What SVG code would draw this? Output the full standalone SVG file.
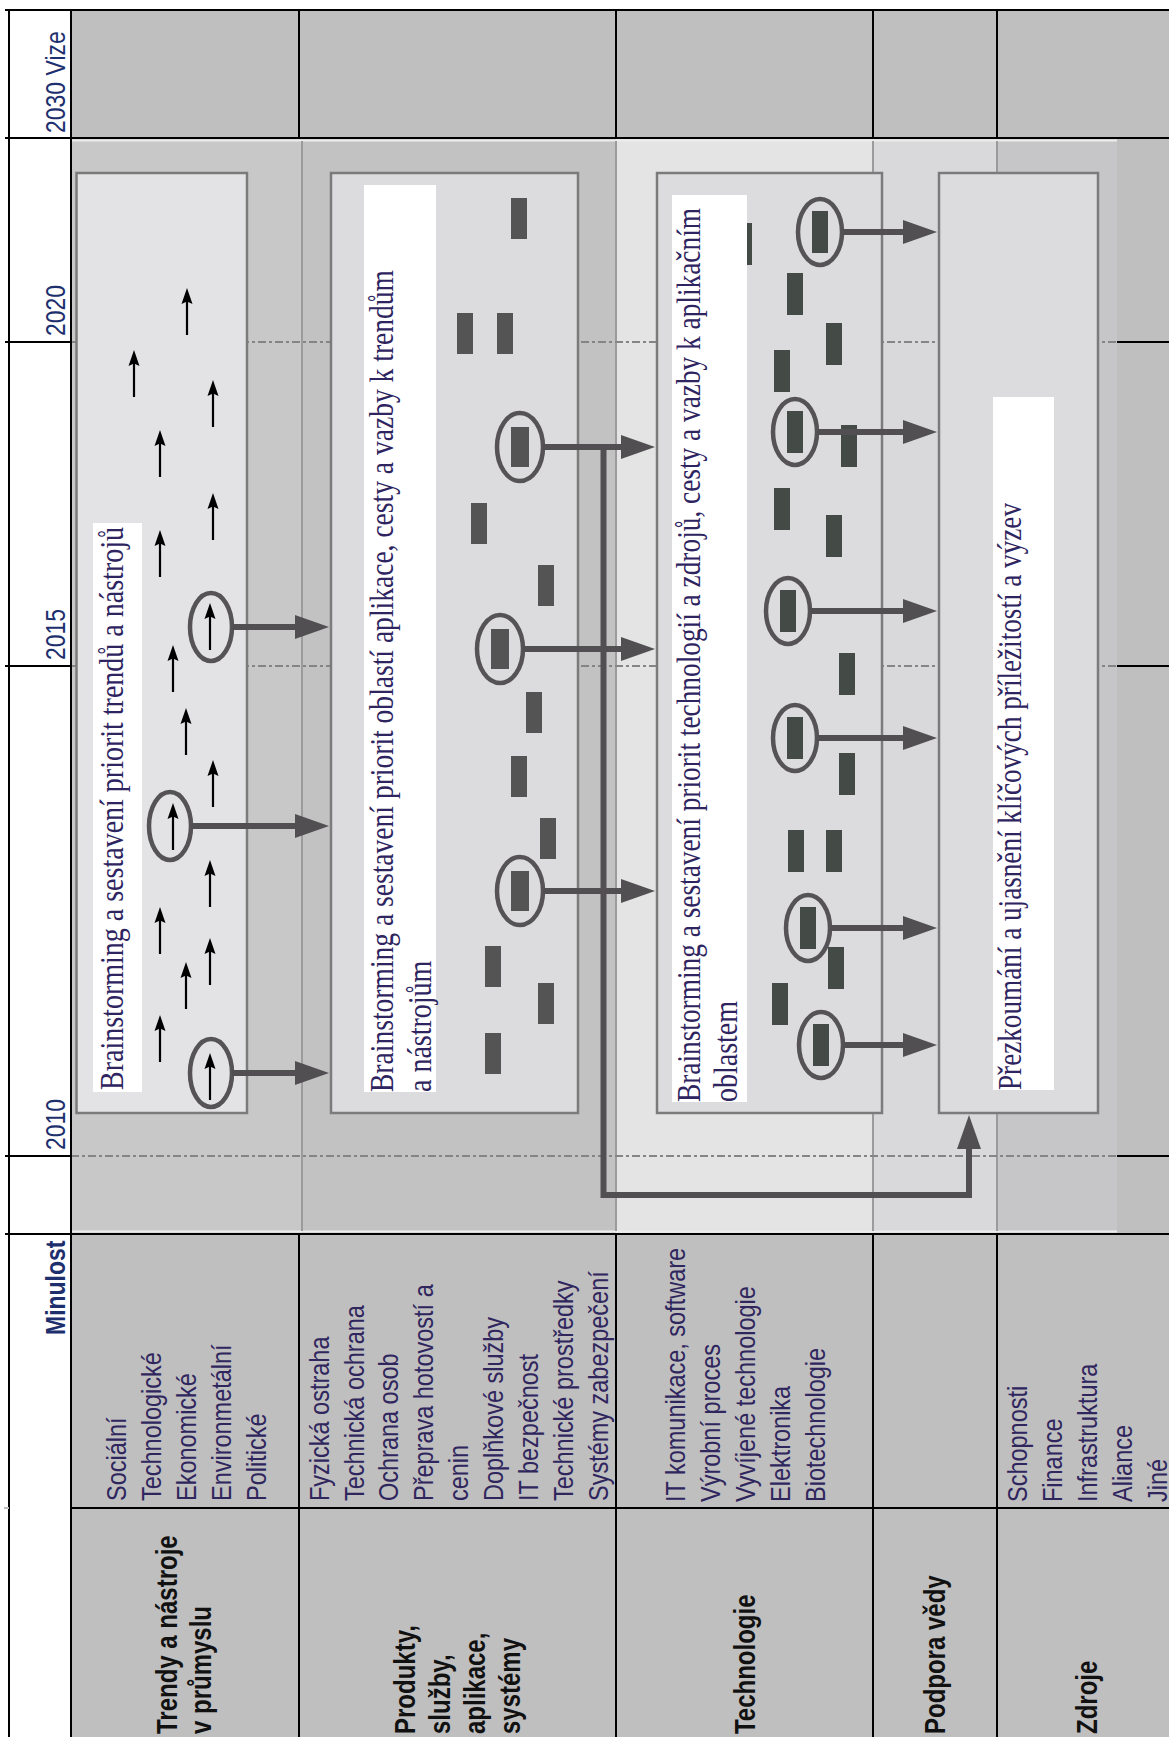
<svg xmlns="http://www.w3.org/2000/svg" xmlns:xlink="http://www.w3.org/1999/xlink" width="1169" height="1737" viewBox="0 0 1169 1737">
  <style>
    .cell { fill: #bfbfbf; }
    .grid { stroke: #000; stroke-width: 2; fill: none; }
    .bandline { stroke: #9b9b9b; stroke-width: 2; }
    .dash { stroke: #858585; stroke-width: 2; stroke-dasharray: 8 3 3 3; }
    .box { stroke: #7b7b7b; stroke-width: 2.5; }
    .lblbg { fill: #ffffff; }
    .lbl { font-family: "Liberation Serif", "Times New Roman", serif; font-size: 28px; fill: #2e2460; }
    .yr { font-family: "Liberation Sans", Arial, sans-serif; font-size: 23px; fill: #1d2f6d; }
    .desc { font-family: "Liberation Sans", Arial, sans-serif; font-size: 23.5px; fill: #30265e; }
    .title { font-family: "Liberation Sans", Arial, sans-serif; font-size: 24px; font-weight: bold; fill: #111; }
    .bar { fill: #545454; }
    .bar2 { fill: #444a46; }
    .ring { fill: none; stroke: #555355; stroke-width: 4.5; }
    .conn { fill: none; stroke: #524f52; stroke-width: 6; }
  </style>
  <defs>
    <!-- small upward trend arrow, 47 px tall, tip at (0,0) -->
    <g id="trend">
      <path d="M0,47 V13" stroke="#000" stroke-width="2.2"/>
      <path d="M0,0 L-5.5,16 L0,13.5 L5.5,16 Z" fill="#000"/>
    </g>
    <rect id="b2" class="bar" width="16" height="41"/>
    <rect id="b3" class="bar2" width="16" height="42"/>
    <marker id="head" markerUnits="userSpaceOnUse" viewBox="0 0 34 24" markerWidth="34" markerHeight="24" refX="0" refY="12" orient="auto">
      <path d="M0,0 L34,12 L0,24 Z" fill="#524f52"/>
    </marker>
  </defs>

  <rect width="1169" height="1737" fill="#fff"/>

  <!-- table cells -->
  <g id="table">
    <rect class="cell" x="71" y="10" width="1098" height="128"/>
    <rect class="cell" x="71" y="1234" width="1098" height="503"/>
    <!-- timeline bands -->
    <rect x="71" y="138" width="231" height="1096" fill="#c8c8c8"/>
    <rect x="302" y="138" width="314" height="1096" fill="#c2c2c2"/>
    <rect x="616" y="138" width="257" height="1096" fill="#e4e4e4"/>
    <rect x="873" y="138" width="124" height="1096" fill="#d9d9db"/>
    <rect x="997" y="138" width="120" height="1096" fill="#c6c6c8"/>
    <rect x="1117" y="138" width="52" height="1096" fill="#bfbfbf"/>
    <line x1="71" y1="140.5" x2="1117" y2="140.5" stroke="#ececec" stroke-width="2"/>
    <line x1="71" y1="1231.5" x2="1117" y2="1231.5" stroke="#ececec" stroke-width="2"/>
    <line class="bandline" x1="302" y1="141" x2="302" y2="1231"/>
    <line class="bandline" x1="616" y1="141" x2="616" y2="1231"/>
    <line class="bandline" x1="873" y1="141" x2="873" y2="1231"/>
    <line class="bandline" x1="997" y1="141" x2="997" y2="1231"/>
    <!-- year guides -->
    <line class="dash" x1="71" y1="342" x2="1117" y2="342"/>
    <line class="dash" x1="71" y1="666" x2="1117" y2="666"/>
    <line class="dash" x1="71" y1="1156" x2="1117" y2="1156"/>
    <!-- grid -->
    <path class="grid" d="M5,10 H1169 M5,138 H1169 M5,1234 H1169 M71,1508 H1169 M5,342 H71 M5,666 H71 M5,1156 H71 M1117,342 H1169 M1117,666 H1169 M1117,1156 H1169 M9,10 V1737 M71,10 V1737 M299,10 V138 M616,10 V138 M873,10 V138 M997,10 V138 M299,1234 V1737 M616,1234 V1737 M873,1234 V1737 M997,1234 V1737"/>
    <line x1="4" y1="1508" x2="9" y2="1508" stroke="#bbb" stroke-width="2"/>
  </g>

  <!-- Trends box -->
  <g id="box-trends">
    <rect class="box" x="76.5" y="173" width="170.5" height="940" fill="#e3e3e5"/>
    <rect class="lblbg" x="93" y="523" width="49" height="569"/>
    <text class="lbl" transform="translate(123,1090) rotate(-90) scale(1,1.2)" textLength="563" lengthAdjust="spacingAndGlyphs">Brainstorming a sestavení priorit trendů a nástrojů</text>
    <use href="#trend" x="187" y="288"/>
    <use href="#trend" x="134" y="350"/>
    <use href="#trend" x="213" y="380"/>
    <use href="#trend" x="160" y="430"/>
    <use href="#trend" x="213" y="493"/>
    <use href="#trend" x="160" y="530"/>
    <use href="#trend" x="210" y="603"/>
    <use href="#trend" x="173" y="645"/>
    <use href="#trend" x="186" y="708"/>
    <use href="#trend" x="213" y="760"/>
    <use href="#trend" x="173" y="803"/>
    <use href="#trend" x="210" y="860"/>
    <use href="#trend" x="160" y="907"/>
    <use href="#trend" x="210" y="938"/>
    <use href="#trend" x="186" y="962"/>
    <use href="#trend" x="160" y="1015"/>
    <use href="#trend" x="210" y="1053"/>
    <ellipse class="ring" cx="211" cy="627" rx="21" ry="34"/>
    <ellipse class="ring" cx="170" cy="826" rx="21" ry="34"/>
    <ellipse class="ring" cx="211" cy="1073" rx="21" ry="34"/>
  </g>

  <!-- Products box -->
  <g id="box-products">
    <rect class="box" x="331" y="173" width="247" height="940" fill="#dcdcde"/>
    <rect class="lblbg" x="364" y="185" width="72" height="907"/>
    <text class="lbl" transform="translate(393,1092) rotate(-90) scale(1,1.2)" textLength="822" lengthAdjust="spacingAndGlyphs">Brainstorming a sestavení priorit oblastí aplikace, cesty a vazby k trendům</text>
    <text class="lbl" transform="translate(431,1092) rotate(-90) scale(1,1.2)">a nástrojům</text>
    <use href="#b2" x="511" y="198"/>
    <use href="#b2" x="457" y="313"/>
    <use href="#b2" x="497" y="313"/>
    <use href="#b2" x="471" y="503"/>
    <use href="#b2" x="538" y="565"/>
    <use href="#b2" x="526" y="692"/>
    <use href="#b2" x="511" y="756"/>
    <use href="#b2" x="540" y="818"/>
    <use href="#b2" x="485" y="946"/>
    <use href="#b2" x="538" y="983"/>
    <use href="#b2" x="485" y="1033"/>
    <rect class="bar" x="511" y="427" width="18" height="40"/>
    <rect class="bar" x="491" y="629" width="18" height="40"/>
    <rect class="bar" x="511" y="871" width="18" height="40"/>
    <ellipse class="ring" cx="520" cy="447" rx="23" ry="34"/>
    <ellipse class="ring" cx="500" cy="649" rx="23" ry="34"/>
    <ellipse class="ring" cx="520" cy="891" rx="23" ry="34"/>
  </g>

  <!-- Technology box -->
  <g id="box-technology">
    <rect class="box" x="657" y="173" width="225" height="940" fill="#dcdcde"/>
    <use href="#b3" x="736" y="223"/>
    <rect class="lblbg" x="672" y="195" width="75" height="907"/>
    <text class="lbl" transform="translate(700,1102) rotate(-90) scale(1,1.2)" textLength="894" lengthAdjust="spacingAndGlyphs">Brainstorming a sestavení priorit technologií a zdrojů, cesty a vazby k aplikačním</text>
    <text class="lbl" transform="translate(737,1102) rotate(-90) scale(1,1.2)">oblastem</text>
    <use href="#b3" x="787" y="273"/>
    <use href="#b3" x="826" y="323"/>
    <use href="#b3" x="774" y="350"/>
    <use href="#b3" x="841" y="425"/>
    <use href="#b3" x="774" y="488"/>
    <use href="#b3" x="826" y="515"/>
    <use href="#b3" x="839" y="653"/>
    <use href="#b3" x="839" y="753"/>
    <use href="#b3" x="788" y="830"/>
    <use href="#b3" x="826" y="830"/>
    <use href="#b3" x="828" y="947"/>
    <use href="#b3" x="772" y="983"/>
    <use href="#b3" x="812" y="211"/>
    <use href="#b3" x="787" y="411"/>
    <use href="#b3" x="780" y="590"/>
    <use href="#b3" x="787" y="717"/>
    <use href="#b3" x="800" y="907"/>
    <use href="#b3" x="813" y="1024"/>
    <ellipse class="ring" cx="820" cy="232" rx="22" ry="33"/>
    <ellipse class="ring" cx="795" cy="432" rx="22" ry="33"/>
    <ellipse class="ring" cx="788" cy="611" rx="22" ry="33"/>
    <ellipse class="ring" cx="795" cy="738" rx="22" ry="33"/>
    <ellipse class="ring" cx="808" cy="928" rx="22" ry="33"/>
    <ellipse class="ring" cx="821" cy="1045" rx="22" ry="33"/>
  </g>

  <!-- Review box -->
  <g id="box-review">
    <rect class="box" x="939" y="173" width="159" height="940" fill="#dcdcde"/>
    <rect class="lblbg" x="993" y="397" width="61" height="693"/>
    <text class="lbl" transform="translate(1021,1090) rotate(-90) scale(1,1.2)" textLength="587" lengthAdjust="spacingAndGlyphs">Přezkoumání a ujasnění klíčových příležitostí a výzev</text>
  </g>

  <!-- connectors -->
  <g id="connectors">
    <path class="conn" marker-end="url(#head)" d="M232,627 H295"/>
    <path class="conn" marker-end="url(#head)" d="M191,826 H295"/>
    <path class="conn" marker-end="url(#head)" d="M232,1073 H295"/>
    <path class="conn" marker-end="url(#head)" d="M543,447 H621"/>
    <path class="conn" marker-end="url(#head)" d="M523,649 H621"/>
    <path class="conn" marker-end="url(#head)" d="M543,891 H621"/>
    <path class="conn" marker-end="url(#head)" d="M842,232 H903"/>
    <path class="conn" marker-end="url(#head)" d="M817,432 H903"/>
    <path class="conn" marker-end="url(#head)" d="M810,611 H903"/>
    <path class="conn" marker-end="url(#head)" d="M817,738 H903"/>
    <path class="conn" marker-end="url(#head)" d="M830,928 H903"/>
    <path class="conn" marker-end="url(#head)" d="M843,1045 H903"/>
    <path class="conn" marker-end="url(#head)" d="M603.5,447 V1195 H969 V1149"/>
  </g>

  <!-- time axis -->
  <g id="years">
    <text class="yr" transform="translate(65,133) rotate(-90) scale(1,1.2)">2030 Vize</text>
    <text class="yr" transform="translate(65,336) rotate(-90) scale(1,1.2)">2020</text>
    <text class="yr" transform="translate(65,660) rotate(-90) scale(1,1.2)">2015</text>
    <text class="yr" transform="translate(65,1150) rotate(-90) scale(1,1.2)">2010</text>
    <text class="yr" font-weight="bold" transform="translate(65,1335) rotate(-90) scale(1,1.2)">Minulost</text>
  </g>

  <!-- layer descriptions -->
  <g id="desc-trends">
    <text class="desc" transform="translate(126,1501) rotate(-90) scale(1,1.2)">Sociální</text>
    <text class="desc" transform="translate(161,1501) rotate(-90) scale(1,1.2)">Technologické</text>
    <text class="desc" transform="translate(196,1501) rotate(-90) scale(1,1.2)">Ekonomické</text>
    <text class="desc" transform="translate(231,1501) rotate(-90) scale(1,1.2)">Environmetální</text>
    <text class="desc" transform="translate(266,1501) rotate(-90) scale(1,1.2)">Politické</text>
    <text class="title" transform="translate(177,1734) rotate(-90) scale(1,1.2)">Trendy a nástroje</text>
    <text class="title" transform="translate(211,1734) rotate(-90) scale(1,1.2)">v průmyslu</text>
  </g>
  <g id="desc-products">
    <text class="desc" transform="translate(329,1501) rotate(-90) scale(1,1.2)">Fyzická ostraha</text>
    <text class="desc" transform="translate(364,1501) rotate(-90) scale(1,1.2)">Technická ochrana</text>
    <text class="desc" transform="translate(398,1501) rotate(-90) scale(1,1.2)">Ochrana osob</text>
    <text class="desc" transform="translate(433,1501) rotate(-90) scale(1,1.2)">Přeprava hotovostí a</text>
    <text class="desc" transform="translate(468,1501) rotate(-90) scale(1,1.2)">cenin</text>
    <text class="desc" transform="translate(503,1501) rotate(-90) scale(1,1.2)">Doplňkové služby</text>
    <text class="desc" transform="translate(538,1501) rotate(-90) scale(1,1.2)">IT bezpečnost</text>
    <text class="desc" transform="translate(573,1501) rotate(-90) scale(1,1.2)">Technické prostředky</text>
    <text class="desc" transform="translate(608,1501) rotate(-90) scale(1,1.2)">Systémy zabezpečení</text>
    <text class="title" transform="translate(415,1734) rotate(-90) scale(1,1.2)">Produkty,</text>
    <text class="title" transform="translate(450,1734) rotate(-90) scale(1,1.2)">služby,</text>
    <text class="title" transform="translate(485,1734) rotate(-90) scale(1,1.2)">aplikace,</text>
    <text class="title" transform="translate(520,1734) rotate(-90) scale(1,1.2)">systémy</text>
  </g>
  <g id="desc-technology">
    <text class="desc" transform="translate(685,1502) rotate(-90) scale(1,1.2)">IT komunikace, software</text>
    <text class="desc" transform="translate(720,1502) rotate(-90) scale(1,1.2)">Výrobní proces</text>
    <text class="desc" transform="translate(755,1502) rotate(-90) scale(1,1.2)">Vyvíjené technologie</text>
    <text class="desc" transform="translate(790,1502) rotate(-90) scale(1,1.2)">Elektronika</text>
    <text class="desc" transform="translate(825,1502) rotate(-90) scale(1,1.2)">Biotechnologie</text>
    <text class="title" transform="translate(755,1734) rotate(-90) scale(1,1.2)">Technologie</text>
  </g>
  <g id="desc-science">
    <text class="title" transform="translate(945,1734) rotate(-90) scale(1,1.2)">Podpora vědy</text>
  </g>
  <g id="desc-resources">
    <text class="desc" transform="translate(1027,1502) rotate(-90) scale(1,1.2)">Schopnosti</text>
    <text class="desc" transform="translate(1062,1502) rotate(-90) scale(1,1.2)">Finance</text>
    <text class="desc" transform="translate(1097,1502) rotate(-90) scale(1,1.2)">Infrastruktura</text>
    <text class="desc" transform="translate(1132,1502) rotate(-90) scale(1,1.2)">Aliance</text>
    <text class="desc" transform="translate(1167,1502) rotate(-90) scale(1,1.2)">Jiné</text>
    <text class="title" transform="translate(1097,1734) rotate(-90) scale(1,1.2)">Zdroje</text>
  </g>
</svg>
